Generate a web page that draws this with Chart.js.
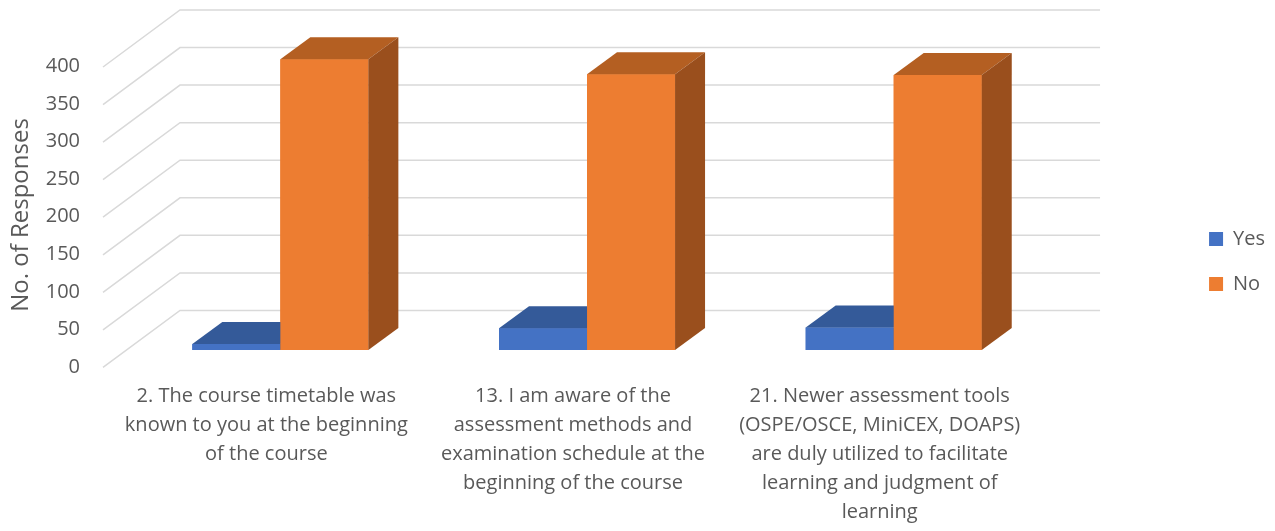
<!DOCTYPE html>
<html>
<head>
<meta charset="utf-8">
<title>No. of Responses</title>
<script src="https://cdn.jsdelivr.net/npm/chart.js@4/dist/chart.umd.min.js"></script>
<style>
  html, body { margin: 0; padding: 0; background: #ffffff; }
  #wrap { width: 1275px; height: 531px; }
</style>
</head>
<body>
<div id="wrap"><canvas id="chart" width="1275" height="531"></canvas></div>
<script>
// data
const categories = [
  ['2. The course timetable was', 'known to you at the beginning', 'of the course'],
  ['13. I am aware of the', 'assessment methods and', 'examination schedule at the', 'beginning of the course'],
  ['21. Newer assessment tools', '(OSPE/OSCE, MiniCEX, DOAPS)', 'are duly utilized to facilitate', 'learning and judgment of', 'learning']
];
const seriesNames = ['Yes', 'No'];
const yesValues = [8, 29, 30];
const noValues = [387, 367, 366];
const yMax = 450;
const yStep = 50;

const frontColors = ['#4472C4', '#ED7D31'];
const topColors = ['#345A99', '#B45F22'];
const sideColors = ['#2D4F88', '#9A4F1D'];
const textColor = '#595959';
const gridColor = '#d9d9d9';

// fake 3d depth of the bars and of the back wall
const DEPTH_X = 30, DEPTH_Y = -22;
const WALL_X = 53, SIDE_X = -24, SIDE_Y = 57;

const wall3d = {
  id: 'wall3d',
  beforeDatasetsDraw(chart) {
    const ctx = chart.ctx;
    const area = chart.chartArea;
    const y = chart.scales.y;
    ctx.save();
    ctx.strokeStyle = gridColor;
    ctx.lineWidth = 1.5;
    for (let v = yStep; v <= yMax; v += yStep) {
      const py = y.getPixelForValue(v) - 2;
      ctx.beginPath();
      ctx.moveTo(area.left + SIDE_X, py + SIDE_Y);
      ctx.lineTo(area.left + WALL_X, py);
      ctx.lineTo(area.right + WALL_X, py);
      ctx.stroke();
    }
    ctx.restore();
  },
  afterDatasetsDraw(chart) {
    // chart.js paints the left bar last, so paint all boxes again left to right
    const ctx = chart.ctx;
    ctx.save();
    chart.data.datasets.forEach((ds, i) => {
      chart.getDatasetMeta(i).data.forEach(bar => {
        const p = bar.getProps(['x', 'y', 'base', 'width'], true);
        const l = p.x - p.width / 2, r = p.x + p.width / 2;
        bar.draw(ctx);
        // top face
        ctx.fillStyle = topColors[i];
        ctx.beginPath();
        ctx.moveTo(l, p.y);
        ctx.lineTo(l + DEPTH_X, p.y + DEPTH_Y);
        ctx.lineTo(r + DEPTH_X, p.y + DEPTH_Y);
        ctx.lineTo(r, p.y);
        ctx.closePath();
        ctx.fill();
        // right side face
        ctx.fillStyle = sideColors[i];
        ctx.beginPath();
        ctx.moveTo(r, p.y);
        ctx.lineTo(r + DEPTH_X, p.y + DEPTH_Y);
        ctx.lineTo(r + DEPTH_X, p.base + DEPTH_Y);
        ctx.lineTo(r, p.base);
        ctx.closePath();
        ctx.fill();
      });
    });
    ctx.restore();
  },
  afterDraw(chart) {
    // axis title, placed where the original has it
    const ctx = chart.ctx;
    ctx.save();
    ctx.translate(21, 215);
    ctx.rotate(-Math.PI / 2);
    ctx.font = '24px "Open Sans"';
    ctx.fillStyle = textColor;
    ctx.textAlign = 'center';
    ctx.textBaseline = 'middle';
    ctx.fillText('No. of Responses', 0, 0);
    ctx.restore();
  }
};

new Chart(document.getElementById('chart'), {
  type: 'bar',
  data: {
    labels: categories,
    datasets: [
      { label: seriesNames[0], data: yesValues, backgroundColor: frontColors[0] },
      { label: seriesNames[1], data: noValues, backgroundColor: frontColors[1] }
    ]
  },
  options: {
    responsive: false,
    animation: false,
    events: [],
    layout: { padding: 0 },
    datasets: {
      bar: { barPercentage: 1, categoryPercentage: 0.574 }
    },
    plugins: {
      tooltip: { enabled: false },
      legend: {
        position: 'right',
        align: 'start',
        title: {
          display: true,
          text: ' ',
          font: { family: 'Open Sans', size: 20 },
          padding: { top: 0, bottom: 180 }
        },
        labels: {
          boxWidth: 14,
          boxHeight: 14,
          padding: 25,
          color: textColor,
          font: { family: 'Open Sans', size: 20 }
        }
      }
    },
    scales: {
      x: {
        grid: { display: false, drawTicks: false },
        border: { display: false },
        ticks: {
          color: textColor,
          font: { family: 'Open Sans', size: 20, lineHeight: 1.45 },
          padding: 32,
          labelOffset: -14,
          maxRotation: 0,
          autoSkip: false
        },
        afterFit(s) { s.height = 181; }
      },
      y: {
        min: 0,
        max: yMax,
        grid: { display: false, drawTicks: false },
        border: { display: false },
        ticks: {
          stepSize: yStep,
          color: textColor,
          font: { family: 'Open Sans', size: 20 },
          padding: 47,
          labelOffset: 17,
          callback: v => (v >= yMax ? '' : v)
        },
        afterFit(s) {
          s.width = 127;
          s.paddingTop = 12;
          s.paddingBottom = 0;
        }
      },
      // empty box that keeps the legend away from the plot, like the original
      gap: {
        type: 'linear',
        position: 'right',
        display: true,
        grid: { display: false, drawTicks: false },
        border: { display: false },
        ticks: { display: false },
        afterFit(s) { s.width = 137; }
      }
    }
  },
  plugins: [wall3d]
});
</script>
</body>
</html>
